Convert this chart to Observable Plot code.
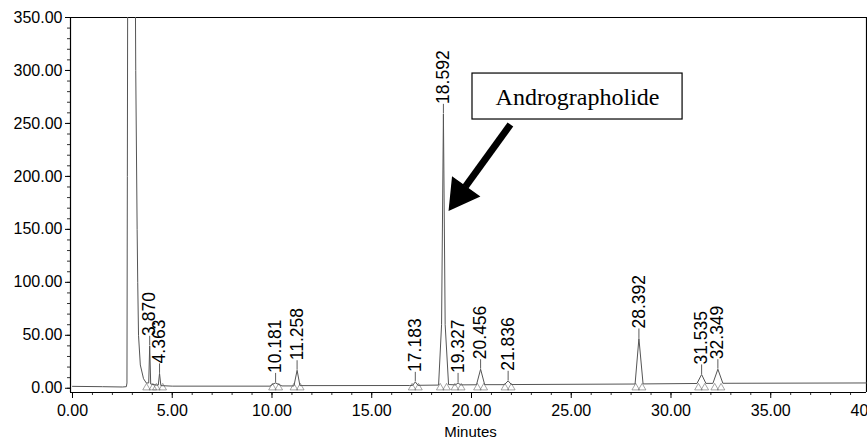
<!DOCTYPE html>
<html><head><meta charset="utf-8">
<script src="https://cdn.jsdelivr.net/npm/d3@7"></script>
<script src="https://cdn.jsdelivr.net/npm/@observablehq/plot@0.6"></script>
<style>
body{margin:0;background:#fff;overflow:hidden}
svg{max-width:none !important}
</style>
</head><body>
<div id="chart"></div>
<script>
// Chromatogram trace (minutes, signal)
const traceTime = [0.0, 1.5, 2.5, 2.70, 2.73, 2.75, 2.77, 3.14, 3.17, 3.24, 3.27, 3.31, 3.40, 3.56, 3.70,
  3.82, 3.87, 3.92, 4.20, 4.30, 4.363, 4.43, 5.0, 9.8, 9.9, 10.05, 10.181, 10.35, 10.5,
  11.1, 11.258, 11.4, 16.9, 17.05, 17.183, 17.32, 18.35, 18.50, 18.592, 18.68, 18.85,
  19.2, 19.327, 19.45, 20.25, 20.456, 20.66, 21.65, 21.836, 22.0, 28.2, 28.392, 28.6,
  31.3, 31.535, 31.75, 32.1, 32.349, 32.6, 39.8];
const traceValue = [1.8, 1.5, 1.2, 1.5, 5, 200, 420, 420, 300, 150, 100, 50, 22, 9, 5,
  5, 40, 4, 3, 3, 14, 2.5, 2.0, 2.0, 2.0, 4, 5, 3.5, 2.2,
  2.2, 17, 2.5, 2.6, 2.7, 6, 2.8, 3.0, 60, 259, 60, 3.5,
  3.2, 5, 3.2, 3.3, 18, 3.4, 3.4, 7, 3.5, 4.0, 47, 4.1,
  4.5, 13, 4.6, 4.6, 18, 4.7, 5.0];

// Labelled peaks
const peakRT = [3.870, 4.363, 10.181, 11.258, 17.183, 18.592, 19.327, 20.456, 21.836, 28.392, 31.535, 32.349];
const peakHeight = [40, 14, 5, 17, 6, 259, 5, 18, 7, 47, 13, 18];
const peakLabels = ["3.870", "4.363", "10.181", "11.258", "17.183", "18.592", "19.327", "20.456", "21.836", "28.392", "31.535", "32.349"];

// Axis ticks
const xTicks = [0, 5, 10, 15, 20, 25, 30, 35, 40];
const yTicks = [0, 50, 100, 150, 200, 250, 300, 350];
const xLabel = "Minutes";

// Annotation
const annotationText = "Andrographolide";
const annotationBox = {x1: 20.05, x2: 30.58, y1: 253.7, y2: 297.1};
const arrowShaft = {x1: 21.95, y1: 249, x2: 19.70, y2: 190.5};
const arrowHead = {x: 19.44, y: 182.9};

const trace = traceTime.map((t, i) => ({t, v: traceValue[i]}));
const peaks = peakRT.map((rt, i) => ({rt, h: peakHeight[i], label: peakLabels[i]}));
const markers = peaks.flatMap(p => [{t: p.rt - 0.16}, {t: p.rt + 0.16}]);

const xMax = 39.8, xMin = -0.1, yMin = -4, yMax = 350;

const chart = Plot.plot({
  width: 880, height: 438,
  marginLeft: 70, marginRight: 10, marginTop: 17, marginBottom: 46,
  x: {domain: [xMin, 40], label: null},
  y: {domain: [yMin, yMax], label: null},
  style: {fontFamily: "'Liberation Sans', Arial, sans-serif", fontSize: "16px", background: "#fff", color: "#000"},
  marks: [
    // minor ticks
    Plot.axisY({ticks: d3.range(0, 351, 10), tickSize: 3, tickFormat: () => "", label: null, stroke: "#333"}),
    Plot.axisX({ticks: d3.range(0, 40, 1), tickSize: 3, tickFormat: () => "", label: null, stroke: "#333"}),
    // major ticks
    Plot.axisY({ticks: yTicks, tickSize: 5, tickPadding: 3, tickFormat: d => d.toFixed(2), label: null, fontSize: 16}),
    Plot.axisX({ticks: xTicks, tickSize: 6, tickPadding: 6, tickFormat: d => d.toFixed(2), label: null, fontSize: 16}),
    // frame
    Plot.ruleX([xMin, xMax], {y1: yMin, y2: yMax, stroke: "#000", strokeWidth: 1.2}),
    Plot.ruleY([yMin, yMax], {x1: xMin, x2: xMax, stroke: "#000", strokeWidth: 1.2}),
    // baseline markers
    Plot.dot(markers, {x: "t", y: 0.5, symbol: "triangle", r: 2.8, stroke: "#666", fill: "none", strokeWidth: 0.6}),
    // trace
    Plot.line(trace, {x: "t", y: "v", stroke: "#555", strokeWidth: 1, clip: true}),
    // apex connectors and labels
    Plot.ruleX(peaks, {x: "rt", y1: "h", y2: d => d.h + 9, stroke: "#333", strokeWidth: 0.8}),
    Plot.text(peaks, {x: "rt", y: "h", text: "label", rotate: -90, textAnchor: "start", dy: -10, fontSize: 17.5, fill: "#000"}),
    // x label
    Plot.text([xLabel], {frameAnchor: "bottom", dy: 44, fontSize: 15, fill: "#000"}),
    // annotation box and arrow
    Plot.rect([annotationBox], {x1: "x1", x2: "x2", y1: "y1", y2: "y2", fill: "#fff", stroke: "#000", strokeWidth: 1.2}),
    Plot.text([annotationBox], {x: d => (d.x1 + d.x2) / 2, y: d => (d.y1 + d.y2) / 2, text: () => annotationText,
      fontFamily: "'Liberation Serif', 'Times New Roman', serif", fontSize: 24, fill: "#000", dy: 1}),
    Plot.link([arrowShaft], {x1: "x1", y1: "y1", x2: "x2", y2: "y2", stroke: "#000", strokeWidth: 7}),
    Plot.dot([arrowHead], {x: "x", y: "y", symbol: "triangle", r: 12, rotate: 215.7, fill: "#000", stroke: "#000"})
  ]
});
document.getElementById("chart").appendChild(chart);
</script>
</body></html>
